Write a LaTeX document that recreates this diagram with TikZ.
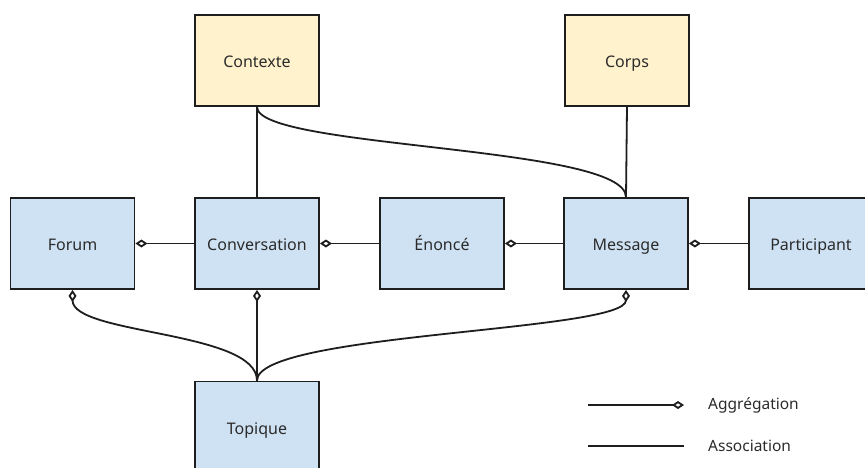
\documentclass[tikz,border=0pt]{standalone}
\usepackage{fontspec}
\setmainfont{Noto Sans}
\usetikzlibrary{arrows.meta}
\definecolor{boxblue}{HTML}{CFE2F3}
\definecolor{boxyellow}{HTML}{FFF2CC}
\definecolor{edgegray}{HTML}{1E1E1E}
\definecolor{txtgray}{HTML}{2B2B2B}
\tikzset{
  entity/.style={draw=edgegray, line width=1.8pt, fill=boxblue, minimum width=124pt, minimum height=91pt, inner sep=0pt, text=txtgray, font=\fontsize{16}{19}\selectfont, text height=15.5pt, text depth=1.5pt},
  ctxbox/.style={entity, fill=boxyellow},
  link/.style={draw=edgegray, line width=1.8pt},
  aggr/.style={link, {Diamond[open,length=12pt,width=8pt]}-},
  legtext/.style={anchor=west, text=txtgray, font=\fontsize{15.5}{18}\selectfont, inner sep=0pt}
}
\begin{document}
\begin{tikzpicture}[x=1pt,y=-1pt]
\useasboundingbox (0,0) rectangle (865,467);
\clip (0,0) rectangle (865,467);
\fill[white] (0,0) rectangle (865,467);
\node[ctxbox] (contexte) at (257,60.5) {Contexte};
\node[ctxbox] (corps) at (627,60.5) {Corps};
\node[entity] (forum) at (72.5,243.5) {Forum};
\node[entity] (conv) at (257,243.5) {Conversation};
\node[entity] (enonce) at (442,243.5) {Énoncé};
\node[entity] (message) at (626,243.5) {Message};
\node[entity] (part) at (811,243.5) {Participant};
\node[entity] (topique) at (257,427) {Topique};
% associations
\draw[link] (contexte.south) -- (conv.north);
\draw[link] (corps.south) -- (message.north);
\draw[link] (contexte.south) .. controls +(0,42) and +(0,-52) .. (message.north);
% aggregations
\draw[aggr] (forum.east) -- (conv.west);
\draw[aggr] (conv.east) -- (enonce.west);
\draw[aggr] (enonce.east) -- (message.west);
\draw[aggr] (message.east) -- (part.west);
\draw[aggr] (forum.south) .. controls +(0,45) and +(0,-50) .. (topique.north);
\draw[aggr] (conv.south) -- (topique.north);
\draw[aggr] (message.south) .. controls +(0,42) and +(0,-48) .. (topique.north);
% legend
\coordinate (la1) at (588,405);
\coordinate (la2) at (684,405);
\coordinate (lb1) at (588,446);
\coordinate (lb2) at (684,446);
\draw[link, -{Diamond[open,length=12pt,width=8pt]}] (la1) -- (la2);
\draw[link] (lb1) -- (lb2);
\node[legtext] (lega) at (708,405) {Aggrégation};
\node[legtext] (legb) at (708,446) {Association};
\end{tikzpicture}
\end{document}
